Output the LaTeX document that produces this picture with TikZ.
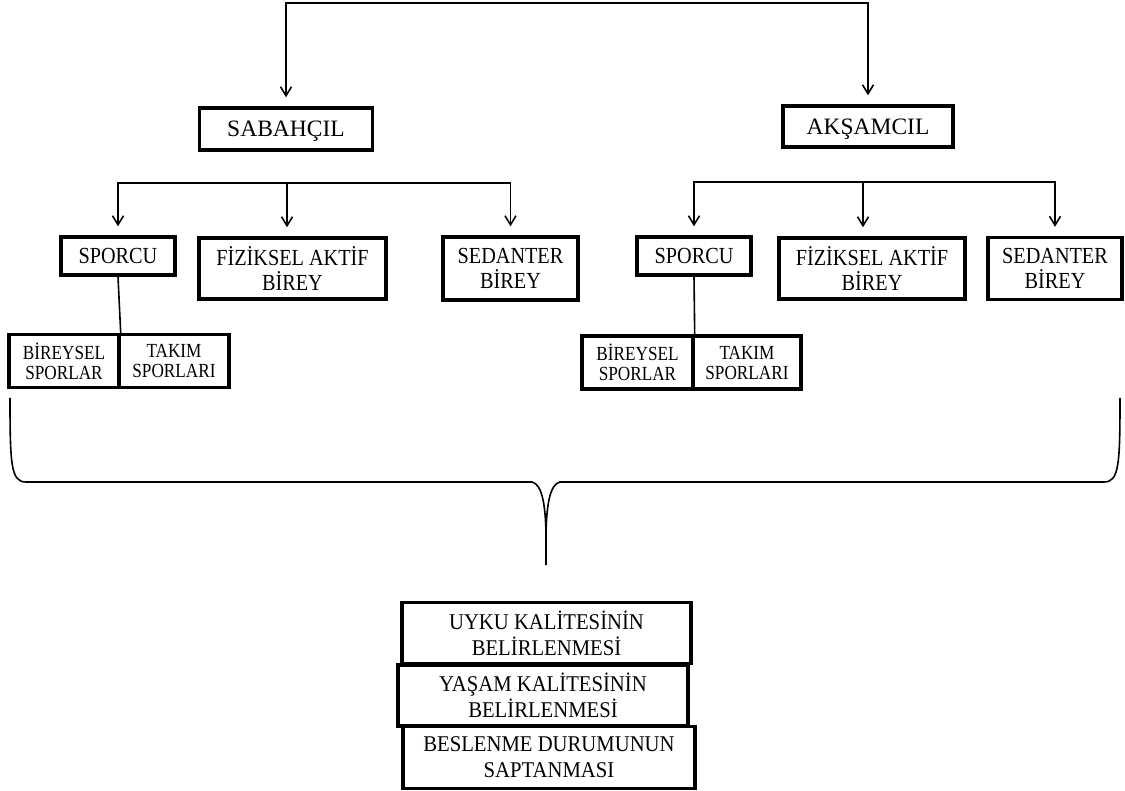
\documentclass[tikz,border=0pt]{standalone}
\usepackage{fontspec}
\setmainfont{Liberation Serif}
\newfontfamily\midserif[FakeStretch=0.88]{Liberation Serif}
\newfontfamily\smallserif[FakeStretch=0.86]{Liberation Serif}
\newfontfamily\resserif[FakeStretch=0.92]{Liberation Serif}
\usetikzlibrary{arrows.meta}
\begin{document}
\begin{tikzpicture}[x=1pt,y=-1pt,
  box/.style={draw, line width=3.4pt, inner sep=0pt, align=center},
  conn/.style={line width=1.6pt},
  arr/.style={conn, -{Straight Barb[length=9pt,width=11pt]}, shorten >=9pt},
  big/.style={font=\fontsize{23.5}{27}\selectfont, text height=15.5pt, text depth=0pt},
  midone/.style={font=\midserif\fontsize{23}{25}\selectfont, text height=15pt, text depth=0pt},
  mid/.style={font=\midserif\fontsize{23}{25}\selectfont},
  small/.style={font=\smallserif\fontsize{20}{20}\selectfont},
  res/.style={font=\resserif\fontsize{22.5}{26}\selectfont}]
\useasboundingbox (0,0) rectangle (1125,791);

% level 1
\node[box,big,minimum width=173pt,minimum height=42pt] (sab) at (286,129) {SABAHÇIL};
\node[box,big,minimum width=170pt,minimum height=41pt] (aks) at (868,126.5) {AKŞAMCIL};
\coordinate (root) at (576,3);
\draw[arr] (root) -| (sab.north);
\draw[arr] (root) -| (aks.north);

% level 2 left
\node[box,midone,minimum width=114pt,minimum height=38pt] (spL) at (118,256) {SPORCU};
\node[box,mid,minimum width=187pt,minimum height=61pt] (fizL) at (292.5,268.5) {FİZİKSEL AKTİF\\BİREY};
\node[box,mid,minimum width=135pt,minimum height=63pt] (sedL) at (510.5,268.5) {SEDANTER\\BİREY};
\coordinate (brL) at (287,183);
\draw[arr] (brL) -| (spL.north);
\draw[arr] (brL) -- (brL |- fizL.north);
\draw[arr] (brL) -| (sedL.north);

% level 2 right
\node[box,midone,minimum width=114pt,minimum height=38pt] (spR) at (694,256) {SPORCU};
\node[box,mid,minimum width=186pt,minimum height=61pt] (fizR) at (872,268.5) {FİZİKSEL AKTİF\\BİREY};
\node[box,mid,minimum width=134pt,minimum height=62pt] (sedR) at (1055,268.5) {SEDANTER\\BİREY};
\coordinate (brR) at (863,182);
\draw[arr] (brR) -| (spR.north);
\draw[arr] (brR) -- (brR |- fizR.north);
\draw[arr] (brR) -| (sedR.north);

% sub boxes
\node[box,small,minimum width=110pt,minimum height=53pt] (birL) at (64,361) {BİREYSEL\\SPORLAR};
\node[box,small,minimum width=110pt,minimum height=53pt] (takL) at (174,361) {TAKIM\\SPORLARI};
\node[box,small,minimum width=111pt,minimum height=53pt] (birR) at (637.5,362.5) {BİREYSEL\\SPORLAR};
\node[box,small,minimum width=108pt,minimum height=53pt] (takR) at (747,362.5) {TAKIM\\SPORLARI};
\draw[conn] (spL.south) -- (birL.north east);
\draw[conn] (spR.south) -- (birR.north east);

% brace
\coordinate (bL) at (10,398);
\coordinate (bR) at (1120,398);
\coordinate (bTip) at (546,565);
\draw[conn] (bL) .. controls (10,465) and (11,482) .. (26,482) -- (532,482)
  .. controls (542,484) and (546,505) .. (546,540) -- (bTip);
\draw[conn] (bR) .. controls (1120,465) and (1119,482) .. (1104,482) -- (560,482)
  .. controls (550,484) and (546,505) .. (546,540);

% results
\node[box,res,minimum width=289pt,minimum height=61pt] (r1) at (546.5,633) {UYKU KALİTESİNİN\\BELİRLENMESİ};
\node[box,res,minimum width=290pt,minimum height=61pt] (r2) at (543,695.5) {YAŞAM KALİTESİNİN\\BELİRLENMESİ};
\node[box,res,minimum width=292pt,minimum height=62pt] (r3) at (549,757.5) {BESLENME DURUMUNUN\\SAPTANMASI};
\end{tikzpicture}
\end{document}
